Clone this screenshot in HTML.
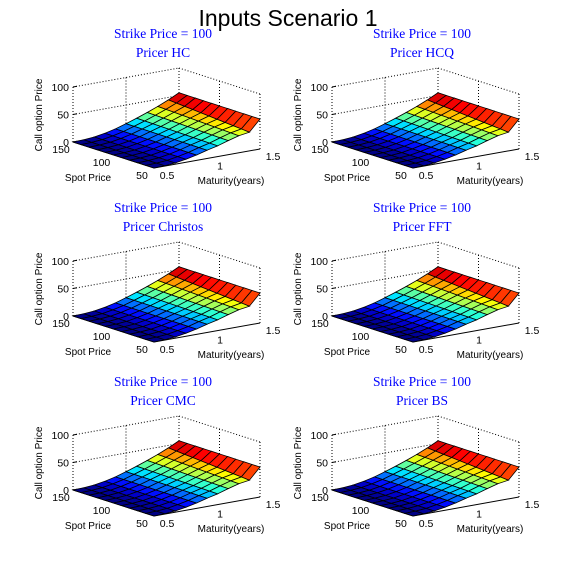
<!DOCTYPE html>
<html>
<head>
<meta charset="utf-8">
<style>
  html,body{margin:0;padding:0;background:#fff;}
  body{width:585px;height:579px;overflow:hidden;}
  svg{display:block;}
  .tick{font-family:"Liberation Sans",sans-serif;font-size:10.5px;fill:#000;}
  .lab{font-family:"Liberation Sans",sans-serif;font-size:10px;fill:#000;}
  .ttl{font-family:"Liberation Serif",serif;font-size:13.5px;fill:#0000ff;}
</style>
</head>
<body>
<svg id="fig" width="585" height="579" viewBox="0 0 585 579" xmlns="http://www.w3.org/2000/svg">
  <rect x="0" y="0" width="585" height="579" fill="#fff"/>
  <text x="288" y="26" text-anchor="middle" font-family="Liberation Sans, sans-serif" font-size="23" fill="#000">Inputs Scenario 1</text>
</svg>
<script>
// ---- data ----
const pricerNames = ["HC", "HCQ", "Christos", "FFT", "CMC", "BS"];
const strikePrice = 100;
const spots = [150, 140, 130, 120, 110, 100, 90, 80, 70, 60, 50];
const maturities = [0.5, 0.6, 0.7, 0.8, 0.9, 1.0, 1.1, 1.2, 1.3, 1.4, 1.5];
// price[maturity index][spot index]
const price = [
  [0,0,0,0,0,0,0,0,0,0,0],
  [0.6,0.6,0.6,0.6,0.6,0.6,0.6,0.6,0.6,0.6,0.6],
  [2.2,2.2,2.2,2.2,2.2,2.2,2.2,2.2,2.2,2.2,2.2],
  [5.5,5.5,5.5,5.5,5.5,5.5,5.5,5.5,5.5,5.5,5.5],
  [10.0,10.0,10.0,9.9,9.9,9.9,9.8,9.8,9.8,9.7,9.7],
  [16.0,15.9,15.8,15.7,15.6,15.5,15.4,15.3,15.2,15.1,15.0],
  [22.5,22.2,21.9,21.6,21.3,21.0,20.7,20.4,20.1,19.8,19.5],
  [29.5,29.1,28.7,28.3,27.9,27.5,27.1,26.7,26.3,25.9,25.5],
  [37.0,36.4,35.8,35.2,34.6,34.0,33.4,32.8,32.2,31.6,31.0],
  [45.5,44.4,43.2,42.1,40.9,39.8,38.6,37.5,36.3,35.2,34.0],
  [55.0,54.9,54.9,54.8,54.8,54.7,54.7,54.6,54.6,54.5,54.5]
];
const zTicks = [0, 50, 100];
const spotTicks = [150, 100, 50];
const matTicks = [0.5, 1, 1.5];

// ---- geometry ----
const NS = "http://www.w3.org/2000/svg";
const fig = document.getElementById("fig");
const A = [73, 142], AB = [81, 26], AD = [106, -19], ZS = 0.55;
function uOf(s){ return (150 - s) / 100; }
function vOf(m){ return (m - 0.5) / 1.0; }
function proj(s, m, z){
  const u = uOf(s), v = vOf(m);
  return [A[0] + u*AB[0] + v*AD[0], A[1] + u*AB[1] + v*AD[1] - z*ZS];
}
function clamp(x){ return Math.max(0, Math.min(1, x)); }
function jet(x){
  const r = clamp(Math.min(4*x-1.5, -4*x+4.5));
  const g = clamp(Math.min(4*x-0.5, -4*x+3.5));
  const b = clamp(Math.min(4*x+0.5, -4*x+2.5));
  return "rgb(" + Math.round(r*255) + "," + Math.round(g*255) + "," + Math.round(b*255) + ")";
}
function mk(tag, attrs, parent){
  const e = document.createElementNS(NS, tag);
  for (const k in attrs) e.setAttribute(k, attrs[k]);
  parent.appendChild(e);
  return e;
}
let zmin = Infinity, zmax = -Infinity;
price.forEach(r => r.forEach(v => { zmin = Math.min(zmin, v); zmax = Math.max(zmax, v); }));

pricerNames.forEach((name, idx) => {
  const dx = (idx % 2) * 259, dy = Math.floor(idx / 2) * 174;
  const g = mk("g", {transform: "translate(" + dx + "," + dy + ")"}, fig);
  
  

  const t1 = mk("text", {x: 163, y: 38, "text-anchor": "middle", class: "ttl"}, g);
  t1.textContent = "Strike Price = " + strikePrice;
  
  
  const t2 = mk("text", {x: 163, y: 57, "text-anchor": "middle", class: "ttl"}, g);
  t2.textContent = "Pricer " + name;
  
  

  const grid = mk("g", {stroke: "#000", "stroke-width": 1, "stroke-dasharray": "1,2", fill: "none"}, g);
  
  
  const line = (p, q) => mk("line", {x1: p[0], y1: p[1], x2: q[0], y2: q[1]}, grid);
  zTicks.forEach(z => {
    if (z === 0) return;
    line(proj(150, 0.5, z), proj(150, 1.5, z));
    line(proj(150, 1.5, z), proj(50, 1.5, z));
  });
  matTicks.forEach(m => { if (m > 0.5) line(proj(150, m, 0), proj(150, m, 100)); });
  spotTicks.forEach(s => { if (s < 150) line(proj(s, 1.5, 0), proj(s, 1.5, 100)); });
  line(proj(150, 0.5, 0), proj(150, 0.5, 100));

  const ax = mk("g", {stroke: "#000", "stroke-width": 1}, g);
  
  
  let p = proj(150, 0.5, 0), q = proj(50, 0.5, 0);
  mk("line", {x1: p[0], y1: p[1], x2: q[0], y2: q[1]}, ax);
  p = proj(50, 0.5, 0); q = proj(50, 1.5, 0);
  mk("line", {x1: p[0], y1: p[1], x2: q[0], y2: q[1]}, ax);
  zTicks.forEach(z => { const a = proj(150, 0.5, z); mk("line", {x1: a[0], y1: a[1], x2: a[0] + 4, y2: a[1] - 0.7}, ax); });

  const surf = mk("g", {stroke: "#000", "stroke-width": 0.8}, g);
  
  
  const faces = [];
  for (let i = 0; i < maturities.length - 1; i++) {
    for (let j = 0; j < spots.length - 1; j++) {
      faces.push([i, j, vOf(maturities[i]) - uOf(spots[j])]);
    }
  }
  faces.sort((a, b) => b[2] - a[2]);
  faces.forEach(([i, j]) => {
    const c = [[i, j], [i, j+1], [i+1, j+1], [i+1, j]];
    let sum = 0;
    const pts = c.map(([a, b]) => { sum += price[a][b]; return proj(spots[b], maturities[a], price[a][b]).map(n => n.toFixed(2)).join(","); });
    const val = (sum / 4 - zmin) / (zmax - zmin);
    const poly = mk("polygon", {points: pts.join(" "), fill: jet(val)}, surf);
    
    
  });

  zTicks.forEach(z => {
    const a = proj(150, 0.5, z);
    const t = mk("text", {x: a[0] - 4, y: a[1] + 4, "text-anchor": "end", class: "tick"}, g);
    t.textContent = z;
    
    
  });
  spotTicks.forEach(s => {
    const a = proj(s, 0.5, 0);
    const t = mk("text", {x: a[0] - 12, y: a[1] + 11, "text-anchor": "middle", class: "tick"}, g);
    t.textContent = s;
    
    
  });
  matTicks.forEach(m => {
    const a = proj(50, m, 0);
    const t = mk("text", {x: a[0] + 13, y: a[1] + 11, "text-anchor": "middle", class: "tick"}, g);
    t.textContent = m;
    
    
  });

  const xl = mk("text", {x: 88, y: 181, "text-anchor": "middle", class: "lab"}, g);
  xl.textContent = "Spot Price";
  
  
  const yl = mk("text", {x: 231, y: 184, "text-anchor": "middle", class: "lab"}, g);
  yl.textContent = "Maturity(years)";
  
  
  const zl = mk("text", {x: 0, y: 0, "text-anchor": "middle", class: "lab", transform: "translate(42,115) rotate(-90)"}, g);
  zl.textContent = "Call option Price";
  
  
});
</script>
</body>
</html>
